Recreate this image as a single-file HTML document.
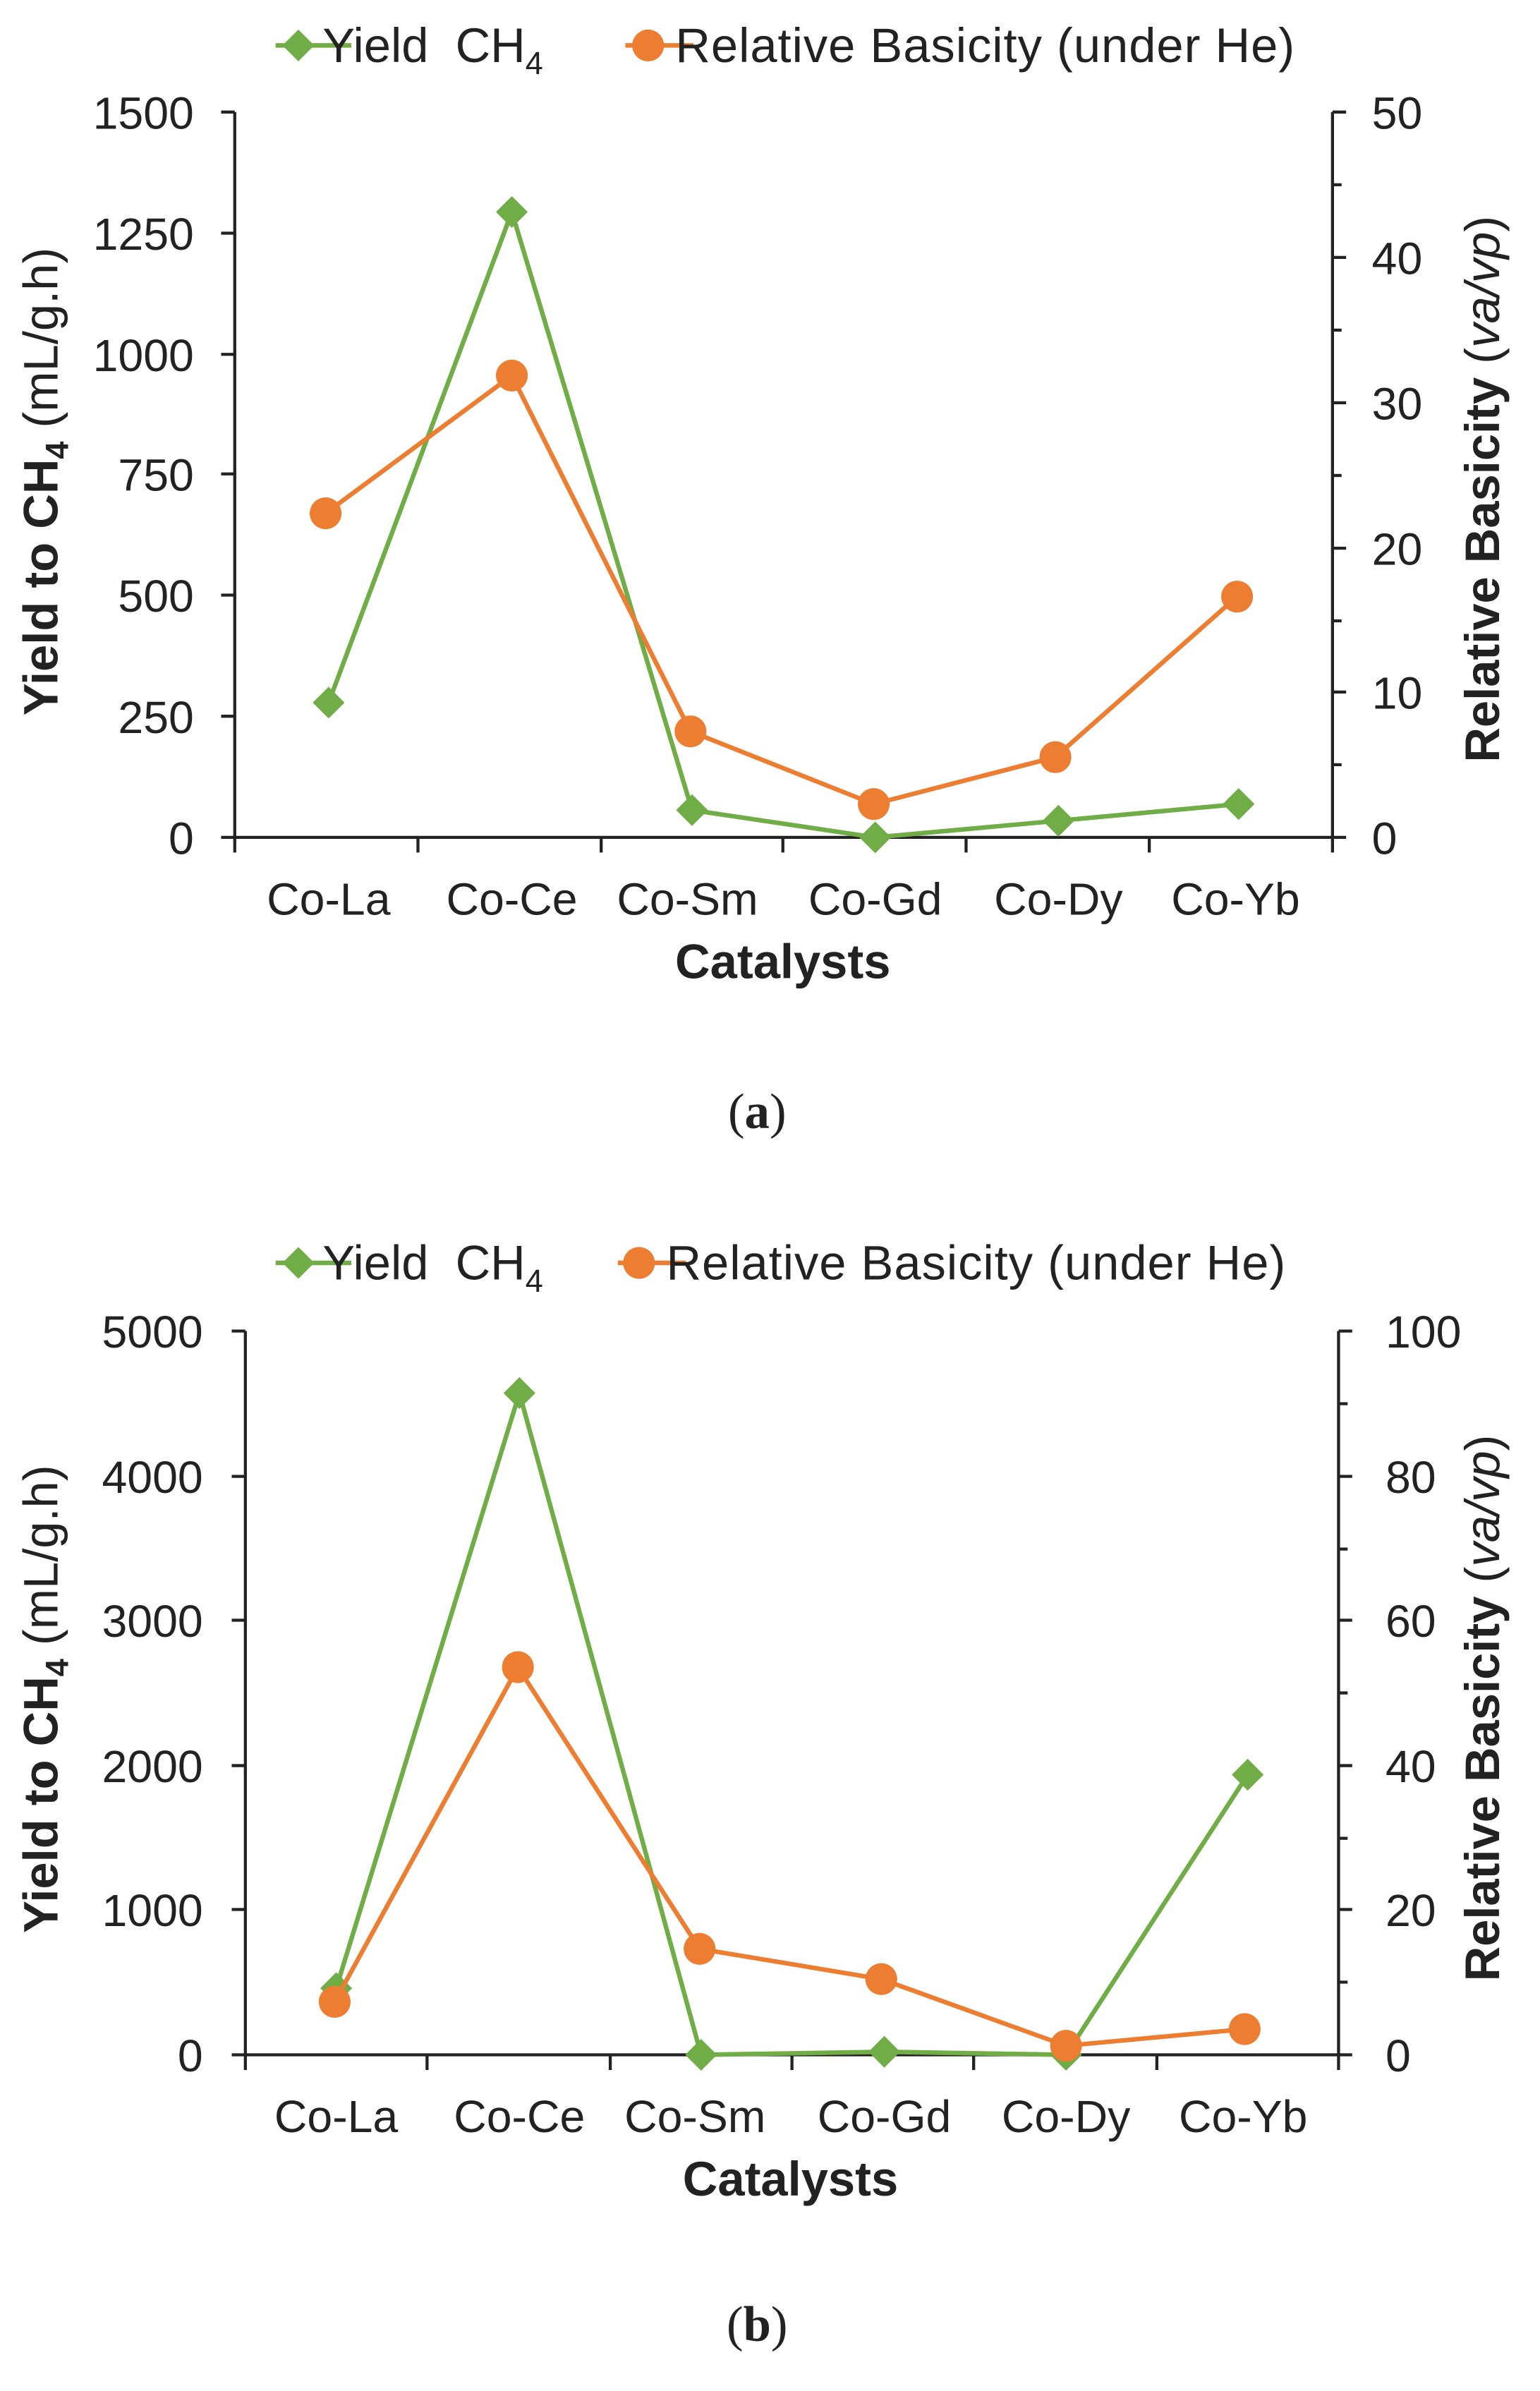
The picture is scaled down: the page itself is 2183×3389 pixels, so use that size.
<!DOCTYPE html>
<html><head><meta charset="utf-8"><style>
html,body{margin:0;padding:0;background:#fff;}
svg{display:block;}
text{font-family:"Liberation Sans",Arial,sans-serif;fill:#222;}
</style></head><body>
<svg width="2183" height="3389" viewBox="0 0 1017 1579" xmlns="http://www.w3.org/2000/svg">
<defs>
<g id="dia"><polygon points="0,-10.5 10.5,0 0,10.5 -10.5,0" fill="#70ad47"/></g>
<g id="cir"><circle r="10.5" fill="#ed7d31"/></g>
</defs>

<!-- ===== Chart A ===== -->
<g>
<line x1="182" y1="30" x2="232" y2="30" stroke="#70ad47" stroke-width="3"/>
<use href="#dia" x="197" y="30"/>
<text x="213" y="41" font-size="32">Yield&#160;&#160;CH<tspan font-size="21" dy="8">4</tspan></text>
<line x1="413" y1="30" x2="458" y2="30" stroke="#ed7d31" stroke-width="3"/>
<use href="#cir" x="428" y="30"/>
<text x="446" y="41" font-size="32" textLength="409">Relative Basicity (under He)</text>

<g stroke="#222" stroke-width="2" fill="none">
<line x1="155" y1="74" x2="155" y2="553"/>
<line x1="880" y1="74" x2="880" y2="553"/>
<line x1="155" y1="553" x2="880" y2="553"/>
<path d="M146 74H155M146 154H155M146 234H155M146 313H155M146 393H155M146 473H155M146 553H155"/>
<path d="M880 74H889M880 122H886M880 170H889M880 218H886M880 266H889M880 314H886M880 362H889M880 410H886M880 457H889M880 505H886M880 553H889"/>
<path d="M155 553V563M276 553V563M397 553V563M517 553V563M638 553V563M759 553V563M880 553V563"/>
</g>
<g font-size="30" text-anchor="end">
<text x="128" y="85">1500</text><text x="128" y="165">1250</text><text x="128" y="245">1000</text>
<text x="128" y="324">750</text><text x="128" y="404">500</text><text x="128" y="484">250</text><text x="128" y="564">0</text>
</g>
<g font-size="30" text-anchor="start">
<text x="906" y="85">50</text><text x="906" y="181">40</text><text x="906" y="277">30</text>
<text x="906" y="373">20</text><text x="906" y="468">10</text><text x="906" y="564">0</text>
</g>
<g font-size="30" text-anchor="middle">
<text x="217" y="604">Co-La</text><text x="338" y="604">Co-Ce</text><text x="454" y="604">Co-Sm</text>
<text x="578" y="604">Co-Gd</text><text x="699" y="604">Co-Dy</text><text x="816" y="604">Co-Yb</text>
<text x="517" y="646" font-size="32" font-weight="bold">Catalysts</text>
</g>
<text transform="translate(38,318) rotate(-90)" text-anchor="middle" font-size="32"><tspan font-weight="bold">Yield to CH<tspan font-size="21" dy="7">4</tspan></tspan><tspan dy="-7"> (mL/g.h)</tspan></text>
<text transform="translate(990,323) rotate(-90)" text-anchor="middle" font-size="32"><tspan font-weight="bold">Relative Basicity</tspan> (<tspan font-style="italic">va/vp</tspan>)</text>

<polyline fill="none" stroke="#70ad47" stroke-width="3" points="217,464 338,140 457,535 578,553 699,542 818,531"/>
<use href="#dia" x="217" y="464"/><use href="#dia" x="338" y="140"/><use href="#dia" x="457" y="535"/>
<use href="#dia" x="578" y="553"/><use href="#dia" x="699" y="542"/><use href="#dia" x="818" y="531"/>
<polyline fill="none" stroke="#ed7d31" stroke-width="3" points="215,339 338,248 456,483 577,531 697,500 817,394"/>
<use href="#cir" x="215" y="339"/><use href="#cir" x="338" y="248"/><use href="#cir" x="456" y="483"/>
<use href="#cir" x="577" y="531"/><use href="#cir" x="697" y="500"/><use href="#cir" x="817" y="394"/>

<text x="500" y="745" text-anchor="middle" font-size="33" style="font-family:'Liberation Serif',serif">(<tspan font-weight="bold">a</tspan>)</text>
</g>

<!-- ===== Chart B ===== -->
<g>
<line x1="182" y1="834" x2="232" y2="834" stroke="#70ad47" stroke-width="3"/>
<use href="#dia" x="197" y="834"/>
<text x="213" y="845" font-size="32">Yield&#160;&#160;CH<tspan font-size="21" dy="8">4</tspan></text>
<line x1="408" y1="834" x2="453" y2="834" stroke="#ed7d31" stroke-width="3"/>
<use href="#cir" x="422" y="834"/>
<text x="440" y="845" font-size="32" textLength="409">Relative Basicity (under He)</text>

<g stroke="#222" stroke-width="2" fill="none">
<line x1="162" y1="879" x2="162" y2="1357"/>
<line x1="884" y1="879" x2="884" y2="1357"/>
<line x1="162" y1="1357" x2="884" y2="1357"/>
<path d="M153 879H162M153 975H162M153 1070H162M153 1166H162M153 1261H162M153 1357H162"/>
<path d="M884 879H893M884 927H890M884 975H893M884 1023H890M884 1070H893M884 1118H890M884 1166H893M884 1214H890M884 1261H893M884 1309H890M884 1357H893"/>
<path d="M162 1357V1367M282 1357V1367M403 1357V1367M523 1357V1367M643 1357V1367M764 1357V1367M884 1357V1367"/>
</g>
<g font-size="30" text-anchor="end">
<text x="134" y="890">5000</text><text x="134" y="986">4000</text><text x="134" y="1081">3000</text>
<text x="134" y="1177">2000</text><text x="134" y="1272">1000</text><text x="134" y="1368">0</text>
</g>
<g font-size="30" text-anchor="start">
<text x="915" y="890">100</text><text x="915" y="986">80</text><text x="915" y="1081">60</text>
<text x="915" y="1177">40</text><text x="915" y="1272">20</text><text x="915" y="1368">0</text>
</g>
<g font-size="30" text-anchor="middle">
<text x="222" y="1408">Co-La</text><text x="343" y="1408">Co-Ce</text><text x="459" y="1408">Co-Sm</text>
<text x="584" y="1408">Co-Gd</text><text x="704" y="1408">Co-Dy</text><text x="821" y="1408">Co-Yb</text>
<text x="522" y="1450" font-size="32" font-weight="bold">Catalysts</text>
</g>
<text transform="translate(38,1122) rotate(-90)" text-anchor="middle" font-size="32"><tspan font-weight="bold">Yield to CH<tspan font-size="21" dy="7">4</tspan></tspan><tspan dy="-7"> (mL/g.h)</tspan></text>
<text transform="translate(990,1128) rotate(-90)" text-anchor="middle" font-size="32"><tspan font-weight="bold">Relative Basicity</tspan> (<tspan font-style="italic">va/vp</tspan>)</text>

<polyline fill="none" stroke="#70ad47" stroke-width="3" points="222,1313 343,920 463,1357 584,1355 704,1357 824,1172"/>
<use href="#dia" x="222" y="1313"/><use href="#dia" x="343" y="920"/><use href="#dia" x="463" y="1357"/>
<use href="#dia" x="584" y="1355"/><use href="#dia" x="704" y="1357"/><use href="#dia" x="824" y="1172"/>
<polyline fill="none" stroke="#ed7d31" stroke-width="3" points="221,1322 342,1101 462,1287 582,1307 704,1351 822,1340"/>
<use href="#cir" x="221" y="1322"/><use href="#cir" x="342" y="1101"/><use href="#cir" x="462" y="1287"/>
<use href="#cir" x="582" y="1307"/><use href="#cir" x="704" y="1351"/><use href="#cir" x="822" y="1340"/>

<text x="500" y="1546" text-anchor="middle" font-size="33" style="font-family:'Liberation Serif',serif">(<tspan font-weight="bold">b</tspan>)</text>
</g>
</svg>
</body></html>
